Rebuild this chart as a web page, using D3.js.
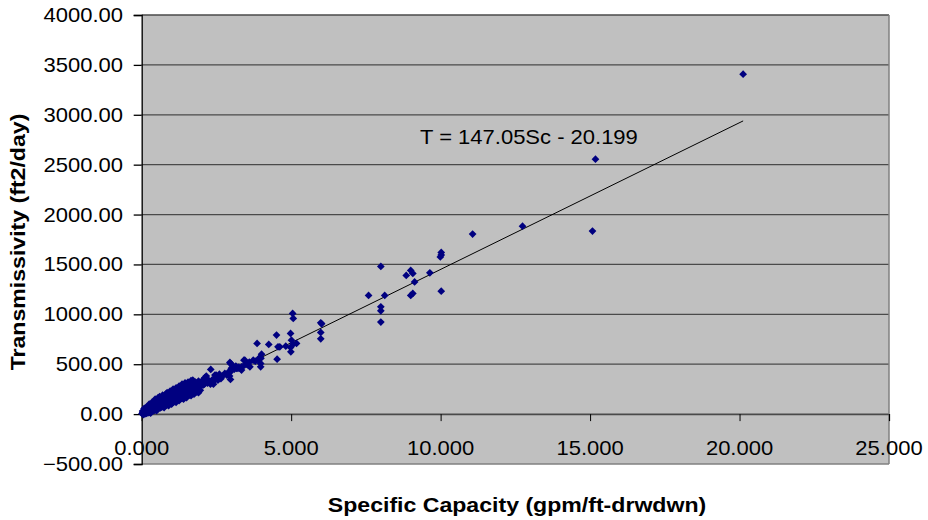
<!DOCTYPE html>
<html><head><meta charset="utf-8">
<script src="https://cdn.jsdelivr.net/npm/d3@7"></script>
<style>body{margin:0;background:#fff}svg{display:block}text{font-family:Arial,"Liberation Sans",sans-serif;fill:#000}</style>
</head><body><div id="chart"></div>
<script>
// ---- data ----
const specificCapacity = [
0.03,0.08,0.12,0.17,0.22,0.27,0.31,0.36,0.41,0.46,0.52,0.57,0.61,0.66,0.71,0.76,0.81,0.86,0.92,0.97,1.02,1.07,1.12,1.18,1.23,1.28,1.33,1.38,1.44,1.5,1.55,1.6,1.66,1.72,1.8,
0.01,0.05,0.1,0.14,0.19,0.24,0.29,0.33,0.38,0.43,0.48,0.53,0.58,0.63,0.68,0.73,0.78,0.83,0.88,0.93,0.98,1.03,1.08,1.13,1.19,1.24,1.29,1.34,1.4,1.46,1.52,1.58,1.64,1.7,1.76,1.83,1.9,1.97,
0.06,0.11,0.16,0.21,0.26,0.32,0.37,0.42,0.47,0.51,0.56,0.62,0.67,0.72,0.77,0.82,0.87,0.91,0.96,1.01,1.06,1.11,1.16,1.21,1.26,1.31,1.36,1.42,1.48,1.53,1.6,1.67,1.74,1.81,1.88,1.96,
0.04,0.09,0.13,0.18,0.23,0.28,0.34,0.39,0.44,0.49,0.54,0.59,0.64,0.69,0.74,0.79,0.84,0.89,0.94,0.99,1.04,1.09,1.14,1.2,1.25,1.3,1.36,1.42,1.47,1.54,1.62,1.69,1.77,1.85,1.93,
0.45,0.55,0.7,0.85,0.95,1.05,1.15,1.25,1.35,1.45,1.55,1.65,0.6,0.8,1.1,1.4,1.9,1.3,0.35,0.25,
0.3,0.5,0.75,1.0,1.25,1.5,1.75,0.9,1.15,1.4,1.65,1.9,
1.71,2.31,2.02,2.16,2.49,2.99,2.94,3.22,3.44,2.0,2.11,2.17,2.39,2.45,2.62,2.78,2.97,2.97,2.97,3.17,3.34,3.15,3.34,3.56,3.62,3.42,3.73,3.98,3.98,3.95,4.01,4.53,3.86,4.25,4.51,4.56,4.82,4.62,5.01,4.98,4.99,4.98,5.18,5.07,5.05,5.07,
5.99,6.02,5.99,5.99,7.59,8.0,8.13,8.0,8.0,8.0,8.85,9.0,9.07,9.13,9.0,9.07,9.64,10.02,9.99,10.02,10.02,11.07,12.74,15.08,15.18,20.12,
2.05,2.1,2.2,2.25,2.3,2.35,2.4,2.5,2.55,2.6,2.7,2.85,2.9,2.2,2.08,2.4,2.65,3.0,3.05,3.1,3.25,3.3,3.5,3.6,3.8,3.9,3.99,3.0,2.95,3.45,2.11
];
const transmissivity = [
30,55,62,70,78,95,88,105,112,120,128,140,135,150,158,165,170,182,190,200,205,210,222,230,238,240,250,262,270,275,285,295,300,310,320,
5,12,20,25,32,38,45,52,58,66,72,80,88,92,100,108,115,122,130,138,145,150,158,165,175,182,188,196,205,212,222,230,240,248,258,265,275,285,
-5,2,8,12,18,25,30,38,42,50,55,62,70,75,82,90,96,102,108,115,120,128,135,140,148,155,162,170,176,185,192,200,210,218,225,238,
18,38,42,50,55,64,72,80,90,95,102,110,118,125,130,140,145,155,162,170,178,185,190,198,208,215,222,232,240,248,262,272,282,290,300,
150,165,190,215,230,250,262,280,300,312,320,335,175,200,240,290,330,270,120,100,
10,35,65,100,135,165,200,85,118,150,185,215,
341,448,334,381,391,501,381,458,491,308,358,324,324,391,374,408,508,424,348,458,441,481,474,491,474,541,541,474,508,568,601,551,708,698,792,674,681,674,741,809,624,668,708,701,1009,959,
915,905,819,755,1189,1480,1189,1075,1035,922,1390,1440,1410,1325,1189,1209,1416,1620,1575,1595,1232,1804,1884,1834,2555,3407,
290,300,310,330,300,340,350,360,340,400,380,390,420,350,320,300,355,440,470,450,470,455,500,520,530,545,560,460,518,541,364
];
const yTicks = [-500,0,500,1000,1500,2000,2500,3000,3500,4000];
const xTicks = [0,5,10,15,20,25];
const trendSlope = 147.05, trendIntercept = -20.199;
const equationLabel = "T = 147.05Sc - 20.199";
const xTitle = "Specific Capacity (gpm/ft-drwdwn)";
const yTitle = "Transmissivity (ft2/day)";

// ---- layout ----
const W = 928, H = 520;
const L = 141.7, R = 889, T = 15, B = 464;
const svg = d3.select("#chart").append("svg").attr("width", W).attr("height", H);
const x = d3.scaleLinear().domain([0, 25]).range([L, R]);
const y = d3.scaleLinear().domain([-500, 4000]).range([B, T]);
const SX = 1.1;

svg.append("rect").attr("x", L).attr("y", T).attr("width", R - L).attr("height", B - T).attr("fill", "#c0c0c0");

// gridlines
svg.append("g").selectAll("line").data(yTicks).join("line")
  .attr("x1", L).attr("x2", R).attr("y1", d => y(d)).attr("y2", d => y(d))
  .attr("stroke", d => d === -500 ? "#808080" : "#4a4a4a").attr("stroke-width", 1.3);
// right border
svg.append("line").attr("x1", R).attr("x2", R).attr("y1", T).attr("y2", B).attr("stroke", "#808080").attr("stroke-width", 1.5);

// y axis
const yAxis = d3.axisLeft(y).tickValues(yTicks).tickSize(8).tickFormat("");
const gy = svg.append("g").attr("transform", `translate(${L},0)`).call(yAxis);
gy.select(".domain").attr("stroke", "#000").attr("stroke-width", 1.3);
gy.selectAll(".tick line").attr("stroke", "#000").attr("stroke-width", 1.3);
svg.append("g").selectAll("g").data(yTicks).join("g")
  .attr("transform", d => `translate(123,${y(d)}) scale(${SX},1)`)
  .append("text").attr("text-anchor", "end").attr("dy", "0.35em").attr("font-size", 20)
  .text(d => d3.format(".2f")(d));

// x axis at y=0
const xAxis = d3.axisBottom(x).tickValues(xTicks).tickSize(7).tickFormat("");
const gx = svg.append("g").attr("transform", `translate(0,${y(0)})`).call(xAxis);
gx.select(".domain").attr("stroke", "#4a4a4a").attr("stroke-width", 1.3);
gx.selectAll(".tick line").attr("stroke", "#000").attr("stroke-width", 1);
svg.append("g").selectAll("g").data(xTicks).join("g")
  .attr("transform", d => `translate(${x(d)},${y(0) + 34}) scale(${SX},1)`)
  .append("text").attr("text-anchor", "middle").attr("dy", "0.35em").attr("font-size", 20)
  .text(d => d3.format(".3f")(d));

// trend line
const xMax = d3.max(specificCapacity);
svg.append("line")
  .attr("x1", x(0)).attr("y1", y(trendIntercept))
  .attr("x2", x(xMax)).attr("y2", y(trendSlope * xMax + trendIntercept))
  .attr("stroke", "#000").attr("stroke-width", 1);

// points
const sym = d3.symbol().type(d3.symbolSquare).size(30);
svg.append("g").selectAll("path").data(specificCapacity.map((v, i) => [v, transmissivity[i]])).join("path")
  .attr("d", sym)
  .attr("transform", d => `translate(${x(d[0])},${y(d[1])}) rotate(45)`)
  .attr("fill", "#000080");

// equation
svg.append("g").attr("transform", `translate(420,144) scale(${SX},1)`)
  .append("text").attr("font-size", 20).text(equationLabel);

// titles
svg.append("g").attr("transform", `translate(517,505) scale(${SX},1)`)
  .append("text").attr("text-anchor", "middle").attr("dy", "0.35em").attr("font-size", 21).attr("font-weight", "bold").text(xTitle);
svg.append("g").attr("transform", `translate(25,242) rotate(-90) scale(${SX},1)`)
  .append("text").attr("text-anchor", "middle").attr("font-size", 21).attr("font-weight", "bold").text(yTitle);
</script></body></html>
